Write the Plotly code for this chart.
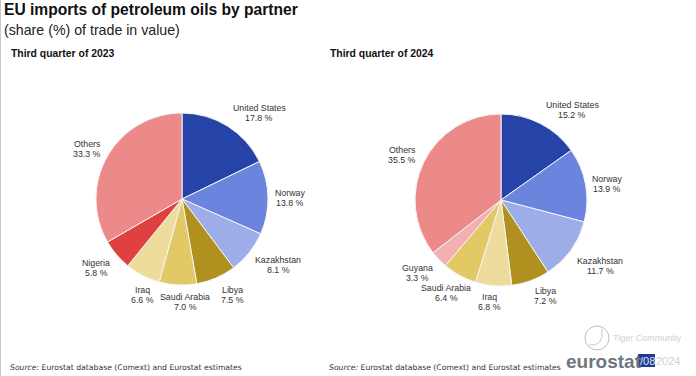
import plotly.graph_objects as go

W, H = 696, 376
FONT = "Liberation Sans"

labels_2023 = ["United States", "Norway", "Kazakhstan", "Libya", "Saudi Arabia", "Iraq", "Nigeria", "Others"]
values_2023 = [17.8, 13.8, 8.1, 7.5, 7.0, 6.6, 5.8, 33.3]
colors_2023 = ["#2644A7", "#6B84DD", "#9DADE8", "#B09120", "#E2C965", "#EDDC9B", "#E04040", "#EC8A8A"]

labels_2024 = ["United States", "Norway", "Kazakhstan", "Libya", "Iraq", "Saudi Arabia", "Guyana", "Others"]
values_2024 = [15.2, 13.9, 11.7, 7.2, 6.8, 6.4, 3.3, 35.5]
colors_2024 = ["#2644A7", "#6B84DD", "#9DADE8", "#B09120", "#EDDC9B", "#E2C965", "#F2B0B0", "#EC8A8A"]

label_pos_2023 = [(259, 113), (290, 198), (278, 265), (232, 295), (185, 302), (142, 295), (96, 268), (87, 149)]
label_pos_2024 = [(572, 110), (607, 184), (600, 266), (545, 296), (489, 302), (446, 293), (417, 273), (402, 155)]


def px(x):
    return x / W


def py(y):
    return 1 - y / H


def pie(labels, values, colors, cx, cy, r):
    return go.Pie(
        labels=labels, values=values, sort=False, direction="clockwise", rotation=0,
        marker=dict(colors=colors, line=dict(color="#F4F4F8", width=1)),
        textinfo="none", hoverinfo="label+percent", showlegend=False,
        domain=dict(x=[px(cx - r), px(cx + r)], y=[py(cy + r), py(cy - r)]),
    )


fig = go.Figure([
    pie(labels_2023, values_2023, colors_2023, 182, 199, 86),
    pie(labels_2024, values_2024, colors_2024, 501, 200, 86),
])


def text(x, y, s, size=8.8, color="#333333", anchor="center", family=FONT):
    fig.add_annotation(
        x=px(x), y=py(y), xref="paper", yref="paper", text=s, showarrow=False,
        xanchor=anchor, yanchor="middle", align="center" if anchor == "center" else "left",
        font=dict(family=family, size=size, color=color),
        borderpad=0, borderwidth=0,
    )


for labs, vals, pos in ((labels_2023, values_2023, label_pos_2023), (labels_2024, values_2024, label_pos_2024)):
    for lab, val, (x, y) in zip(labs, vals, pos):
        text(x, y - 5, lab)
        text(x, y + 5, f"{val:.1f} %")

text(4, 10, "<b>EU imports of petroleum oils by partner</b>", 15.6, "#111111", "left")
text(4, 30, "(share (%) of trade in value)", 14.2, "#222222", "left")
text(11, 54, "<b>Third quarter of 2023</b>", 10.4, "#111111", "left")
text(330, 54, "<b>Third quarter of 2024</b>", 10.4, "#111111", "left")
src = "<i>Source:</i> Eurostat database (Comext) and Eurostat estimates"
text(10, 367, src, 7.7, "#333333", "left", "DejaVu Sans")
text(329, 367, src, 7.7, "#333333", "left", "DejaVu Sans")

# watermark and logo
text(613, 338, "Tiger Community", 9, "#D2D2D2", "left")
text(566, 361, "<b>eurostat</b>", 19, "#6E7680", "left")
text(647, 361, "/08", 11, "#DDE3F5", "center")
text(656, 361, "2024", 11, "#CFCFCF", "left")

fig.update_layout(
    width=W, height=H, autosize=False, margin=dict(l=0, r=0, t=0, b=0),
    paper_bgcolor="white", plot_bgcolor="white",
    shapes=[
        dict(type="rect", xref="paper", yref="paper", x0=0, x1=px(1), y0=0, y1=1,
             fillcolor="#C8C8C8", line=dict(width=0)),
        dict(type="rect", xref="paper", yref="paper", x0=px(638), x1=px(655), y0=py(367), y1=py(354),
             fillcolor="#1F3C94", line=dict(width=0), layer="below"),
        dict(type="circle", xref="paper", yref="paper", x0=px(585), x1=px(609), y0=py(350), y1=py(326),
             line=dict(color="#BDBDBD", width=1)),
        dict(type="path", xref="paper", yref="paper",
             path=f"M {px(589)} {py(345)} Q {px(604)} {py(347)} {px(602)} {py(329)}",
             line=dict(color="#C8C8C8", width=1)),
    ],
)

fig.write_html("out.html", config={"displayModeBar": False},
               post_script="document.body.style.margin='0';document.body.style.overflow='hidden';")
